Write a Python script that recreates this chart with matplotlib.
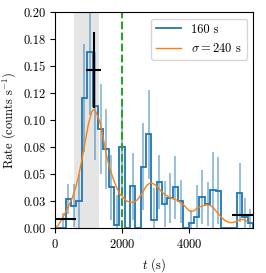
import matplotlib
matplotlib.use("Agg")
import matplotlib.pyplot as plt
import numpy as np
from matplotlib.ticker import FormatStrFormatter

plt.rcParams["font.family"] = "cmr10"
plt.rcParams["mathtext.fontset"] = "cm"
plt.rcParams["axes.formatter.use_mathtext"] = True
plt.rcParams["font.size"] = 9

# 160 s binned light curve
bin_width = 160
rates = [0.0, 0.0, 0.027, 0.021, 0.025, 0.121, 0.163, 0.113, 0.092, 0.073,
         0.038, 0.003, 0.075, 0.0, 0.039, 0.0, 0.057, 0.087, 0.008, 0.043,
         0.0225, 0.028, 0.038, 0.025, 0.0, 0.005, 0.010, 0.029, 0.0225, 0.0355,
         0.0346, 0.0, 0.0, 0.0, 0.033, 0.010, 0.005]
rate_errs = [0.0, 0.014, 0.014, 0.02, 0.025, 0.05, 0.058, 0.05, 0.042, 0.037,
             0.03, 0.028, 0.045, 0.0, 0.031, 0.0, 0.04, 0.041, 0.029, 0.025,
             0.021, 0.023, 0.029, 0.02, 0.0, 0.012, 0.03, 0.025, 0.02, 0.035,
             0.031, 0.0, 0.0, 0.0, 0.027, 0.018, 0.013]

# smoothed curve (sigma = 240 s)
smooth_t = [0, 100, 200, 300, 400, 500, 600, 700, 800, 900, 1000, 1100, 1150,
            1200, 1300, 1350, 1450, 1550, 1650, 1750, 1850, 1950, 2050, 2150,
            2250, 2350, 2450, 2550, 2650, 2750, 2850, 2950, 3050, 3150, 3250,
            3350, 3450, 3550, 3650, 3750, 3850, 3950, 4050, 4150, 4250, 4350,
            4450, 4550, 4650, 4750, 4850, 4950, 5050, 5150, 5250, 5350, 5450,
            5550, 5650, 5750]
smooth_rate = [0.0, 0.003, 0.008, 0.014, 0.020, 0.027, 0.036, 0.048, 0.063,
               0.080, 0.097, 0.108, 0.110, 0.109, 0.102, 0.097, 0.082, 0.066,
               0.054, 0.045, 0.037, 0.031, 0.028, 0.025, 0.024, 0.024, 0.026,
               0.030, 0.035, 0.040, 0.042, 0.041, 0.039, 0.035, 0.032, 0.030,
               0.028, 0.027, 0.026, 0.024, 0.0215, 0.018, 0.0155, 0.016, 0.0185,
               0.020, 0.021, 0.0218, 0.021, 0.0185, 0.0145, 0.011, 0.008, 0.006,
               0.0052, 0.0055, 0.0068, 0.008, 0.0082, 0.006]

# block averages (black crosses)
block_t = [320, 1150, 5600]
block_terr = [320, 225, 320]
block_rate = [0.0085, 0.1466, 0.0125]
block_rerr = [0.0, 0.035, 0.0]

shade_start, shade_end = 560, 1300
t_marker = 2000

edges = np.arange(len(rates) + 1) * bin_width
centers = edges[:-1] + bin_width / 2

fig = plt.figure(figsize=(2.66, 2.73), dpi=100)
ax = fig.add_axes([0.207, 0.164, 0.744, 0.791])

ax.axvspan(shade_start, shade_end, color="0.5", alpha=0.2, lw=0)
ax.errorbar(centers, rates, yerr=rate_errs, fmt="none", ecolor="C0",
            alpha=0.5, lw=1.3)
ax.stairs(rates, edges, color="C0", lw=1.3, label="160 s")
ax.plot(smooth_t, smooth_rate, color="C1", lw=1.0, label=r"$\sigma = 240$ s")
ax.axvline(t_marker, color="C2", ls="--", lw=1.5)
ax.errorbar(block_t, block_rate, xerr=block_terr, yerr=block_rerr,
            fmt="none", ecolor="k", lw=1.5)

ax.set_xlim(0, edges[-1])
ax.set_ylim(0, 0.2)
ax.set_xticks([0, 2000, 4000])
ax.set_yticks(np.arange(0, 0.201, 0.025))
ax.yaxis.set_major_formatter(FormatStrFormatter("%.2f"))
ax.set_xlabel("$t$ (s)")
ax.set_ylabel("Rate (counts s$^{-1}$)")
ax.legend(loc="upper right")

fig.savefig("out.png", dpi=100)
